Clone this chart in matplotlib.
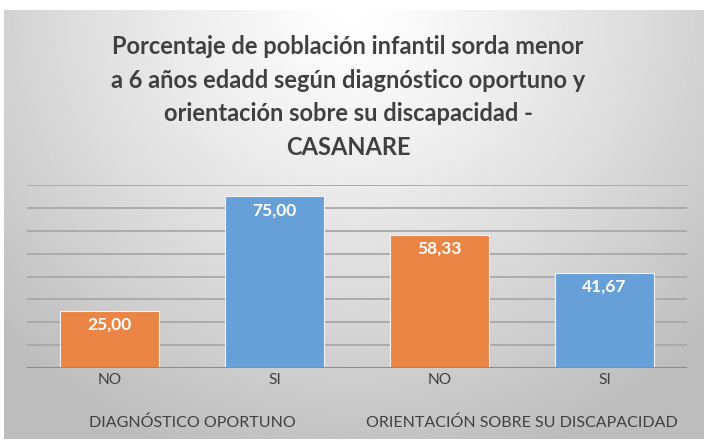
import numpy as np
from matplotlib import pyplot as plt
from matplotlib import transforms

groups = ['DIAGNÓSTICO OPORTUNO', 'ORIENTACIÓN SOBRE SU DISCAPACIDAD']
categories = ['NO', 'SI', 'NO', 'SI']
values = [25.00, 75.00, 58.33, 41.67]
labels = ['25,00', '75,00', '58,33', '41,67']
title = ('Porcentaje de población infantil sorda menor\n'
         'a 6 años edadd según diagnóstico oportuno y\n'
         'orientación sobre su discapacidad -\n'
         'CASANARE')

orange = '#EB8545'
blue = '#67A0D8'
colors = [orange, blue, orange, blue]

plt.rcParams['font.family'] = ['Lato', 'DejaVu Sans']

fig = plt.figure(figsize=(7.04, 4.41), dpi=100)
fig.patch.set_facecolor('white')

# radial gradient background
bg = fig.add_axes([4 / 704, 2 / 441, 700 / 704, 429 / 441])
yy, xx = np.mgrid[0:1:300j, 0:1:480j]
d = np.sqrt(((xx - 0.5) / 0.7) ** 2 + (yy / 1.1) ** 2)
shade = 1.0 - 0.26 * np.clip(d, 0, 1) ** 1.2
bg.imshow(shade, cmap='gray', vmin=0, vmax=1, aspect='auto', extent=[0, 1, 1, 0])
bg.set_axis_off()

ax = fig.add_axes([27 / 704, 73 / 441, 660 / 704, 183 / 441])
ax.patch.set_alpha(0)
x = np.arange(len(values))
ax.bar(x, values, width=0.6, color=colors, edgecolor='#f2f2f2', linewidth=0.8, zorder=3)
ax.set_xlim(-0.5, len(values) - 0.5)
ax.set_ylim(0, 80)
ax.set_yticks(np.arange(0, 81, 10))
ax.yaxis.grid(True, color='#a8a8a8', linewidth=1.3, zorder=0)
ax.axhline(0, color='#8c8c8c', linewidth=1.5, zorder=4)
for s in ax.spines.values():
    s.set_visible(False)
ax.tick_params(left=False, bottom=False, labelleft=False, labelbottom=False)

for xi, v, lab in zip(x, values, labels):
    ax.text(xi, v - 6.0, lab, ha='center', va='center', color='white',
            fontsize=12.5, fontweight='bold', zorder=5)

trans = transforms.blended_transform_factory(ax.transData, fig.transFigure)
for xi, c in zip(x, categories):
    ax.text(xi, 1 - 380 / 441, c, transform=trans, ha='center', va='center',
            fontsize=11.2, color='#404040')
for gi, g in enumerate(groups):
    ax.text(2 * gi + 0.5, 1 - 423 / 441, g, transform=trans, ha='center', va='center',
            fontsize=11.5, color='#404040')

fig.text(348 / 704, 1 - 97 / 441, title, ha='center', va='center',
         fontsize=17, fontweight='bold', color='#404040', linespacing=1.55)

fig.savefig('out.png', dpi=100)
